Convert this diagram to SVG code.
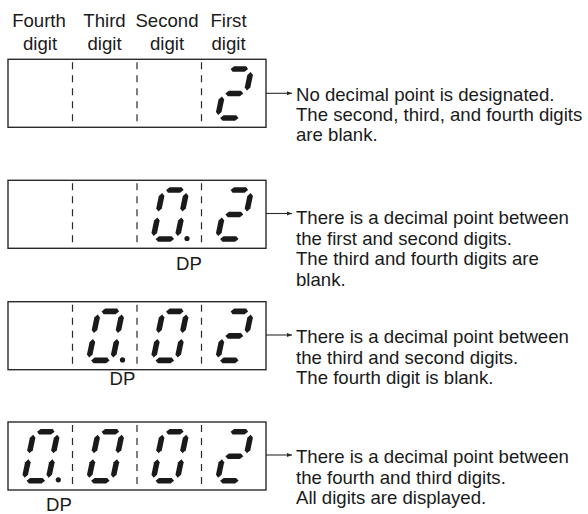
<svg xmlns="http://www.w3.org/2000/svg" width="588" height="514" viewBox="0 0 588 514">
  <style>
    .t { font-family: "Liberation Sans", Arial, sans-serif; font-size: 18.6px; fill: #1a1a1a; }
    .c { text-anchor: middle; }
    .box { fill: #ffffff; stroke: #2a2a2a; stroke-width: 1.4; }
    .div { stroke: #2a2a2a; stroke-width: 1.2; stroke-dasharray: 7 6; stroke-dashoffset: -3; }
    .seg { fill: #1a1a1a; }
    .arr { stroke: #2a2a2a; stroke-width: 1.1; fill: none; marker-end: url(#ah); }
  </style>
  <defs>
    <marker id="ah" viewBox="0 0 10 10" refX="10" refY="5" markerWidth="6" markerHeight="5" markerUnits="userSpaceOnUse" orient="auto">
      <path d="M0,1 L10,5 L0,9 Z" fill="#2a2a2a"/>
    </marker>
    <polygon id="sa" class="seg" points="6.5,-52 9.5,-54.8 21.5,-54.8 24,-52 21,-49.2 9,-49.2"/>
    <polygon id="sg" class="seg" points="6,-27.5 9,-30.3 21,-30.3 24,-27.5 21,-24.7 9,-24.7"/>
    <polygon id="sd" class="seg" points="5.5,-3 8.5,-5.8 21,-5.8 24,-3 21,-0.2 8.5,-0.2"/>
    <polygon id="sf" class="seg" points="3.2,-49 6,-46 5.8,-33.5 3,-30.5 0.2,-33.5 0.4,-46"/>
    <polygon id="sb" class="seg" points="27.2,-49 30,-46 29.8,-33.5 27,-30.5 24.2,-33.5 24.4,-46"/>
    <polygon id="se" class="seg" points="3.2,-24.5 6,-21.5 5.8,-9 3,-6 0.2,-9 0.4,-21.5"/>
    <polygon id="sc" class="seg" points="27.2,-24.5 30,-21.5 29.8,-9 27,-6 24.2,-9 24.4,-21.5"/>
    <g id="d0">
      <use href="#sa"/><use href="#sb"/><use href="#sc"/><use href="#sd"/><use href="#se"/><use href="#sf"/>
    </g>
    <g id="d2">
      <use href="#sa"/><use href="#sb"/><use href="#sg"/><use href="#se"/><use href="#sd"/>
    </g>
  </defs>

  <g id="headers">
    <text class="t c" x="39" y="27">Fourth</text>
    <text class="t c" x="40" y="50">digit</text>
    <text class="t c" x="104.5" y="27">Third</text>
    <text class="t c" x="104.5" y="50">digit</text>
    <text class="t c" x="167" y="27">Second</text>
    <text class="t c" x="167" y="50">digit</text>
    <text class="t c" x="228.5" y="27">First</text>
    <text class="t c" x="228.5" y="50">digit</text>
  </g>

  <!-- Display 1: "2" -->
  <g id="display1">
    <rect class="box" x="8" y="59.3" width="258" height="68"/>
    <line class="div" x1="72.5" y1="59.3" x2="72.5" y2="127.3"/>
    <line class="div" x1="137" y1="59.3" x2="137" y2="127.3"/>
    <line class="div" x1="201.5" y1="59.3" x2="201.5" y2="127.3"/>
    <g transform="translate(214,121) skewX(-11)"><use href="#d2"/></g>
  </g>

  <!-- Display 2: "0.2" -->
  <g id="display2">
    <rect class="box" x="8" y="180.3" width="258" height="68"/>
    <line class="div" x1="72.5" y1="180.3" x2="72.5" y2="248.3"/>
    <line class="div" x1="137" y1="180.3" x2="137" y2="248.3"/>
    <line class="div" x1="201.5" y1="180.3" x2="201.5" y2="248.3"/>
    <g transform="translate(149.5,242) skewX(-11)"><use href="#d0"/></g>
    <circle class="seg" cx="187" cy="238.5" r="2.6"/>
    <g transform="translate(214,242) skewX(-11)"><use href="#d2"/></g>
    <text class="t c" x="189" y="270">DP</text>
  </g>

  <!-- Display 3: "0.02" -->
  <g id="display3">
    <rect class="box" x="8" y="301.7" width="258" height="68"/>
    <line class="div" x1="72.5" y1="301.7" x2="72.5" y2="369.7"/>
    <line class="div" x1="137" y1="301.7" x2="137" y2="369.7"/>
    <line class="div" x1="201.5" y1="301.7" x2="201.5" y2="369.7"/>
    <g transform="translate(85,363.4) skewX(-11)"><use href="#d0"/></g>
    <circle class="seg" cx="122.5" cy="359.9" r="2.6"/>
    <g transform="translate(149.5,363.4) skewX(-11)"><use href="#d0"/></g>
    <g transform="translate(214,363.4) skewX(-11)"><use href="#d2"/></g>
    <text class="t c" x="122.5" y="385">DP</text>
  </g>

  <!-- Display 4: "0.002" -->
  <g id="display4">
    <rect class="box" x="8" y="422" width="258" height="68"/>
    <line class="div" x1="72.5" y1="422" x2="72.5" y2="490"/>
    <line class="div" x1="137" y1="422" x2="137" y2="490"/>
    <line class="div" x1="201.5" y1="422" x2="201.5" y2="490"/>
    <g transform="translate(20.5,483.7) skewX(-11)"><use href="#d0"/></g>
    <circle class="seg" cx="58.3" cy="479.8" r="2.6"/>
    <g transform="translate(85,483.7) skewX(-11)"><use href="#d0"/></g>
    <g transform="translate(149.5,483.7) skewX(-11)"><use href="#d0"/></g>
    <g transform="translate(214,483.7) skewX(-11)"><use href="#d2"/></g>
    <text class="t c" x="59" y="511">DP</text>
  </g>

  <g id="connectors">
    <line class="arr" x1="266" y1="93.3" x2="292" y2="93.3"/>
    <line class="arr" x1="266" y1="213.5" x2="292" y2="213.5"/>
    <line class="arr" x1="266" y1="335" x2="292" y2="335"/>
    <line class="arr" x1="266" y1="455" x2="292" y2="455"/>
  </g>

  <g id="desc1">
    <text class="t" x="296" y="100.5">No decimal point is designated.</text>
    <text class="t" x="296" y="120.5">The second, third, and fourth digits</text>
    <text class="t" x="296" y="140.5">are blank.</text>
  </g>
  <g id="desc2">
    <text class="t" x="296" y="224">There is a decimal point between</text>
    <text class="t" x="296" y="244.5">the first and second digits.</text>
    <text class="t" x="296" y="265">The third and fourth digits are</text>
    <text class="t" x="296" y="285.5">blank.</text>
  </g>
  <g id="desc3">
    <text class="t" x="296" y="343">There is a decimal point between</text>
    <text class="t" x="296" y="363.5">the third and second digits.</text>
    <text class="t" x="296" y="384">The fourth digit is blank.</text>
  </g>
  <g id="desc4">
    <text class="t" x="296" y="463">There is a decimal point between</text>
    <text class="t" x="296" y="483.5">the fourth and third digits.</text>
    <text class="t" x="296" y="504">All digits are displayed.</text>
  </g>
</svg>
